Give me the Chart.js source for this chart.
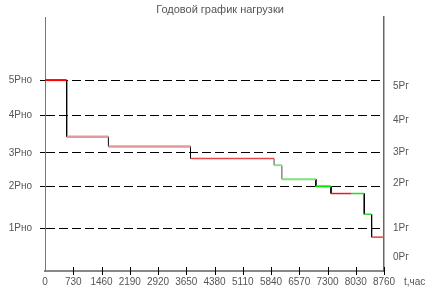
<!DOCTYPE html>
<html>
<head>
<meta charset="utf-8">
<script src="https://cdn.jsdelivr.net/npm/chart.js@4.4.1/dist/chart.umd.min.js"></script>
<style>
	body { margin: 0; background: #fff; }
</style>
</head>
<body>
<canvas id="myChart" width="433" height="295"></canvas>
<script>
// load duration curve: step i runs from hours[i] to hours[i+1] at load[i]
const hours = [0, 560, 1640, 3760, 5920, 6120, 7000, 7390, 7925, 8250, 8440, 8760];
const load = [4.51, 3.17, 2.94, 2.66, 2.50, 2.17, 2.00, 1.83, 1.83, 1.34, 0.80];

const xTicks = [0, 730, 1460, 2190, 2920, 3650, 4380, 5110, 5840, 6570, 7300, 8030, 8760];
const leftLevels = [1.00, 2.00, 2.79, 3.67, 4.51];
const leftLabels = ['1Pно', '2Pно', '3Pно', '4Pно', '5Pно'];
const rightLevels = [0.33, 1.00, 2.08, 2.80, 3.55, 4.36];
const rightLabels = ['0Pг', '1Pг', '2Pг', '3Pг', '4Pг', '5Pг'];

const FONT = 'Liberation Sans, Arial, sans-serif';

// colours of the horizontal pieces and of the drops between them
const stepColors = ['#ff0000', '#e39a9a', '#e39a9a', '#e44848', '#92d892', '#7ce27c', '#00e800', '#e02020', '#1ee01e', '#2ed82e', '#e04444'];
const stepWidths = [2, 2.5, 2.5, 1.5, 2, 2, 2, 1.5, 1.5, 1.5, 1.5];
const dropColors = ['#000', '#000', '#222', '#000', '#888', '#888', '#000', '#000', '#000', '#000', '#000'];

let horiz = [];
for (let i = 0; i < load.length; i++) {
	horiz.push({x: hours[i], y: load[i]}, {x: hours[i + 1], y: load[i]}, {x: hours[i + 1], y: null});
}

let vert = [];
let vertColors = [];
for (let i = 1; i < load.length; i++) {
	if (load[i] !== load[i - 1]) {
		vert.push({x: hours[i], y: load[i - 1]}, {x: hours[i], y: load[i]}, {x: hours[i], y: null});
		vertColors.push(dropColors[i]);
	}
}

const extras = {
	id: 'extras',
	afterDraw(chart) {
		const ctx = chart.ctx;
		const xs = chart.scales.x;
		const bottom = chart.chartArea.bottom;
		ctx.save();
		// x ticks crossing the axis
		ctx.strokeStyle = '#000';
		ctx.lineWidth = 1;
		xTicks.forEach(v => {
			if (v === 0) return;
			const px = Math.round(xs.getPixelForValue(v)) + 0.5;
			ctx.beginPath();
			ctx.moveTo(px, bottom - 4);
			ctx.lineTo(px, bottom + 4);
			ctx.stroke();
		});
		ctx.fillStyle = '#555';
		ctx.font = '11px ' + FONT;
		ctx.textAlign = 'center';
		ctx.textBaseline = 'middle';
		ctx.fillText('Годовой график нагрузки', 220, 10);
		ctx.font = '10px ' + FONT;
		ctx.textAlign = 'left';
		ctx.fillText('t,час', 404, 282);
		ctx.restore();
	}
};

new Chart(document.getElementById('myChart'), {
	type: 'line',
	data: {
		datasets: [
			{
				data: horiz,
				borderColor: '#f00',
				borderWidth: 2,
				pointRadius: 0,
				spanGaps: false,
				segment: {
					borderColor: c => stepColors[Math.floor(c.p0DataIndex / 3)],
					borderWidth: c => stepWidths[Math.floor(c.p0DataIndex / 3)]
				}
			},
			{
				data: vert,
				borderColor: '#000',
				borderWidth: 1,
				pointRadius: 0,
				spanGaps: false,
				segment: {
					borderColor: c => vertColors[Math.floor(c.p0DataIndex / 3)],
					borderWidth: c => vertColors[Math.floor(c.p0DataIndex / 3)] === '#888' ? 1.5 : 1
				}
			}
		]
	},
	options: {
		responsive: false,
		animation: false,
		devicePixelRatio: 1,
		layout: { padding: { top: 17, left: 0, right: 0, bottom: 0 } },
		plugins: {
			legend: { display: false },
			tooltip: { enabled: false }
		},
		scales: {
			x: {
				type: 'linear',
				min: 0,
				max: 8760,
				afterBuildTicks: s => { s.ticks = xTicks.map(v => ({value: v})); },
				afterFit: s => { s.height = 24; },
				grid: { display: true, drawOnChartArea: false, drawTicks: false },
				border: { display: true, color: '#888', width: 2 },
				ticks: {
					autoSkip: false,
					maxRotation: 0,
					padding: 5,
					color: '#555',
					font: { size: 10, family: FONT },
					callback: v => String(v)
				}
			},
			y: {
				position: 'left',
				min: 0,
				max: 6,
				afterBuildTicks: s => { s.ticks = leftLevels.map(v => ({value: v})); },
				afterFit: s => { s.width = 45; },
				grid: { color: '#000', lineWidth: 1, drawTicks: true, tickLength: 5, tickColor: '#000' },
				border: { color: '#777', width: 1, dash: [9, 4] },
				ticks: {
					padding: 8,
					color: '#555',
					font: { size: 10, family: FONT },
					callback: (v, i) => leftLabels[i]
				}
			},
			y2: {
				position: 'right',
				min: 0,
				max: 6,
				afterBuildTicks: s => { s.ticks = rightLevels.map(v => ({value: v})); },
				afterFit: s => { s.width = 49; },
				grid: { drawOnChartArea: false, drawTicks: false },
				border: { color: '#666', width: 1.5 },
				ticks: {
					padding: 9,
					color: '#555',
					font: { size: 10, family: FONT },
					callback: (v, i) => rightLabels[i]
				}
			}
		}
	},
	plugins: [extras]
});
</script>
</body>
</html>
